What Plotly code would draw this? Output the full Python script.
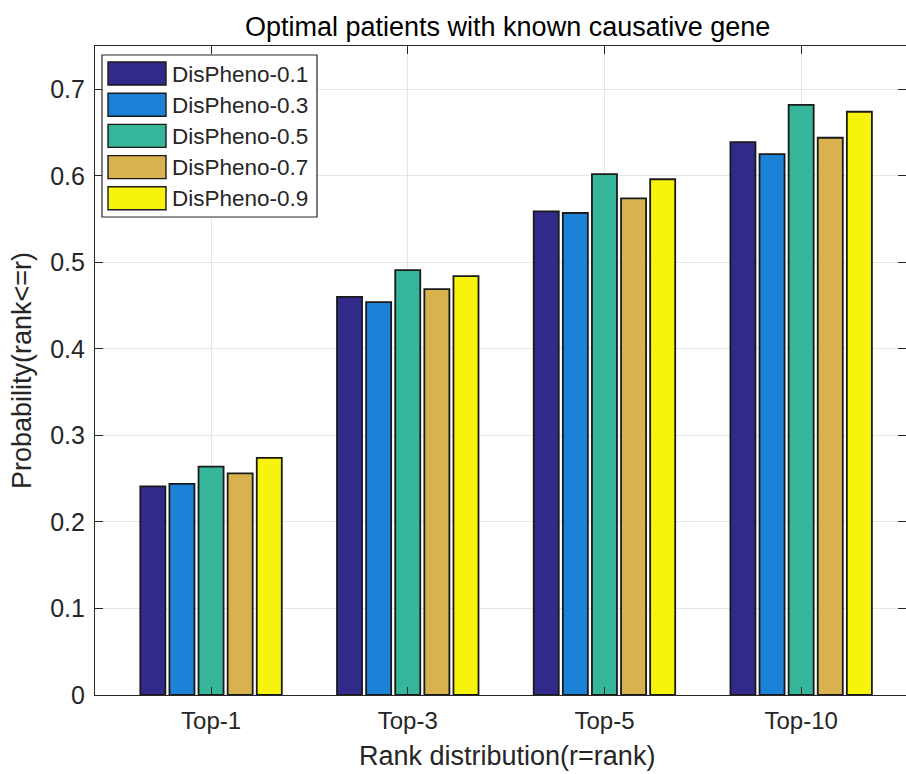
import plotly.graph_objects as go

categories = ["Top-1", "Top-3", "Top-5", "Top-10"]
series_names = ["DisPheno-0.1", "DisPheno-0.3", "DisPheno-0.5", "DisPheno-0.7", "DisPheno-0.9"]
values_01 = [0.241, 0.460, 0.559, 0.639]
values_03 = [0.244, 0.454, 0.557, 0.625]
values_05 = [0.264, 0.491, 0.602, 0.682]
values_07 = [0.256, 0.469, 0.574, 0.644]
values_09 = [0.274, 0.484, 0.596, 0.674]
series_values = [values_01, values_03, values_05, values_07, values_09]
colors = ["#312a8a", "#1b82d8", "#35b59a", "#d7b24f", "#f8f30d"]
y_ticks = [0, 0.1, 0.2, 0.3, 0.4, 0.5, 0.6, 0.7]

W, H = 906, 774
ML, MR, MT, MB = 95, 0, 46, 79
PW, PH = W - ML - MR, H - MT - MB
FONT = "Liberation Sans, Arial, Helvetica, sans-serif"
TXT = "#262626"


def px(x):
    return (x - ML) / PW


def py(y):
    return (H - MB - y) / PH


fig = go.Figure()
for name, vals, col in zip(series_names, series_values, colors):
    fig.add_trace(go.Bar(
        x=categories, y=vals, name=name,
        marker=dict(color=col, line=dict(color="#1a1a1a", width=1.8)),
        showlegend=False,
    ))

# manual legend (large swatches like the MATLAB original)
shapes = [dict(type="rect", xref="paper", yref="paper",
               x0=px(102), x1=px(317), y0=py(217), y1=py(55),
               fillcolor="white", line=dict(color="#262626", width=1.2), layer="above")]
annotations = []
row_h = 31.2
for i, (name, col) in enumerate(zip(series_names, colors)):
    top = 62 + i * row_h
    shapes.append(dict(type="rect", xref="paper", yref="paper",
                       x0=px(108), x1=px(166), y0=py(top + 23), y1=py(top),
                       fillcolor=col, line=dict(color="#1a1a1a", width=1.4), layer="above"))
    annotations.append(dict(xref="paper", yref="paper", x=px(170), y=py(top + 12),
                            xanchor="left", yanchor="middle", text=name, showarrow=False,
                            font=dict(family=FONT, size=22.5, color=TXT)))

annotations.append(dict(xref="paper", yref="paper", x=px(507), y=py(27),
                        xanchor="center", yanchor="middle",
                        text="Optimal patients with known causative gene", showarrow=False,
                        font=dict(family=FONT, size=27, color="#000000")))
annotations.append(dict(xref="paper", yref="paper", x=px(507), y=py(756),
                        xanchor="center", yanchor="middle",
                        text="Rank distribution(r=rank)", showarrow=False,
                        font=dict(family=FONT, size=27, color=TXT)))
annotations.append(dict(xref="paper", yref="paper", x=px(22), y=py(371),
                        xanchor="center", yanchor="middle", textangle=-90,
                        text="Probability(rank<=r)", showarrow=False,
                        font=dict(family=FONT, size=27, color=TXT)))

fig.update_layout(
    width=W, height=H,
    margin=dict(l=ML, r=MR, t=MT, b=MB),
    paper_bgcolor="white", plot_bgcolor="white",
    barmode="group", bargap=0.26, bargroupgap=0.14,
    font=dict(family=FONT, size=24, color=TXT),
    shapes=shapes, annotations=annotations,
)
fig.update_xaxes(
    type="category", range=[-0.59, 3.533],
    showline=True, linecolor="#262626", linewidth=1.2, mirror="allticks",
    ticks="inside", ticklen=8, tickcolor="#262626",
    showgrid=True, gridcolor="#e6e6e6", gridwidth=1,
    tickfont=dict(family=FONT, size=24, color=TXT),
    ticklabelstandoff=4,
)
fig.update_yaxes(
    range=[0, 0.75], tickvals=y_ticks, ticktext=[f"{v:g}" for v in y_ticks],
    showline=True, linecolor="#262626", linewidth=1.2, mirror="allticks",
    ticks="inside", ticklen=8, tickcolor="#262626",
    showgrid=True, gridcolor="#e6e6e6", gridwidth=1, zeroline=False,
    tickfont=dict(family=FONT, size=25, color=TXT),
    ticklabelstandoff=4,
)

fig.write_html("out.html")
